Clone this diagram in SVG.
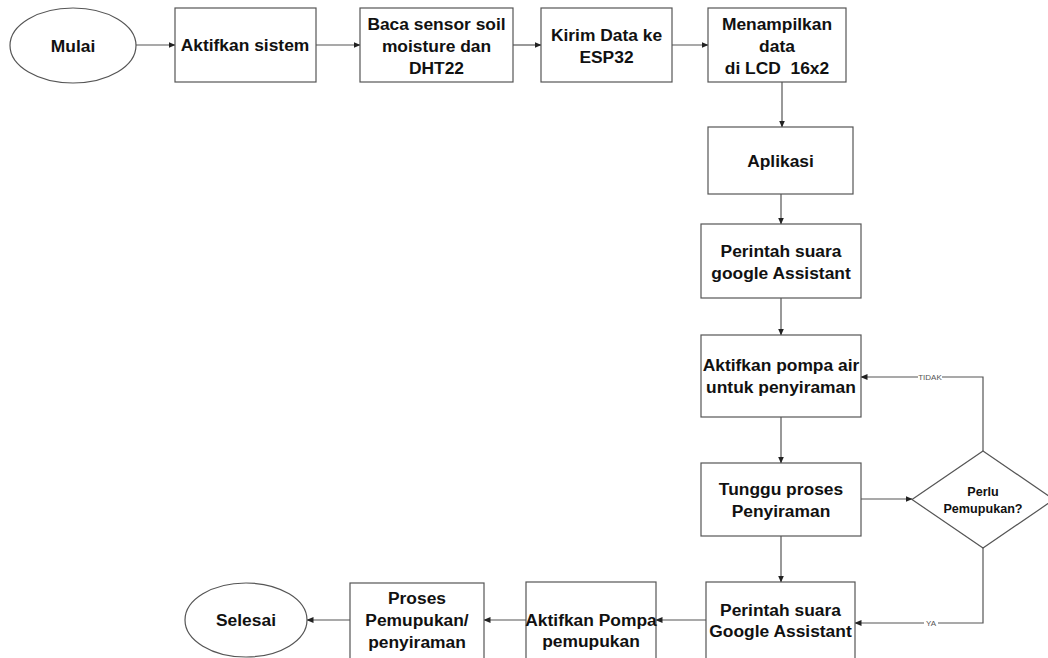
<svg xmlns="http://www.w3.org/2000/svg" width="1048" height="658" viewBox="0 0 1048 658">
<defs>
<marker id="arr" markerWidth="7" markerHeight="7" refX="6.5" refY="3.5" orient="auto" markerUnits="userSpaceOnUse">
<path d="M0,0.5 L7,3.5 L0,6.5 z" fill="#222"/>
</marker>
<style>
.box{fill:#fff;stroke:#555;stroke-width:1.2}
.t{font-family:"Liberation Sans",Arial,sans-serif;font-weight:bold;font-size:17.4px;fill:#111;text-anchor:middle;dominant-baseline:central;white-space:pre}
.s{font-size:12.6px}
.lbl{font-family:"Liberation Sans",Arial,sans-serif;font-size:8px;fill:#555;text-anchor:middle;dominant-baseline:central}
.c{fill:none;stroke:#555;stroke-width:1.2;marker-end:url(#arr)}
</style>
</defs>
<rect width="1048" height="658" fill="#fff"/>
<g id="connectors">
<path class="c" d="M136,45 H175"/>
<path class="c" d="M316,45 H360"/>
<path class="c" d="M513,45 H541"/>
<path class="c" d="M672,45 H708"/>
<path class="c" d="M782,82 V127"/>
<path class="c" d="M781,194 V224"/>
<path class="c" d="M781,298 V335"/>
<path class="c" d="M781,417 V463"/>
<path class="c" d="M861,499 H912"/>
<path class="c" d="M781,536 V582"/>
<path class="c" d="M983,451 V377 H861"/>
<path class="c" d="M983,548 V623 H855"/>
<path class="c" d="M706,620 H656"/>
<path class="c" d="M526,620 H484"/>
<path class="c" d="M350,620 H307"/>
<rect x="918" y="373" width="24" height="8" fill="#fff"/>
<text class="lbl" x="930" y="377">TIDAK</text>
<rect x="924" y="619" width="14" height="8" fill="#fff"/>
<text class="lbl" x="931" y="623">YA</text>
</g>
<g id="mulai"><ellipse class="box" cx="73" cy="45.5" rx="63" ry="37.5"/><text class="t" x="73" y="45.5">Mulai</text></g>
<g id="aktifkan-sistem"><rect class="box" x="175" y="8" width="141" height="74"/><text class="t" x="245" y="45">Aktifkan sistem</text></g>
<g id="baca-sensor"><rect class="box" x="360" y="8" width="153" height="74"/><text class="t" x="436.5" y="24">Baca sensor soil</text><text class="t" x="436.5" y="46">moisture dan</text><text class="t" x="436.5" y="68">DHT22</text></g>
<g id="kirim-data"><rect class="box" x="541" y="8" width="131" height="74"/><text class="t" x="606.5" y="35">Kirim Data ke</text><text class="t" x="606.5" y="57">ESP32</text></g>
<g id="menampilkan"><rect class="box" x="708" y="8" width="138" height="74"/><text class="t" x="777" y="24">Menampilkan</text><text class="t" x="777" y="46">data</text><text class="t" x="777" y="68">di LCD  16x2</text></g>
<g id="aplikasi"><rect class="box" x="708" y="127" width="145" height="67"/><text class="t" x="780.5" y="161">Aplikasi</text></g>
<g id="perintah-suara-1"><rect class="box" x="701" y="224" width="160" height="74"/><text class="t" x="781" y="251">Perintah suara</text><text class="t" x="781" y="273">google Assistant</text></g>
<g id="aktifkan-pompa-air"><rect class="box" x="701" y="335" width="160" height="82"/><text class="t" x="781" y="365">Aktifkan pompa air</text><text class="t" x="781" y="387">untuk penyiraman</text></g>
<g id="tunggu"><rect class="box" x="701" y="463" width="160" height="73"/><text class="t" x="781" y="489">Tunggu proses</text><text class="t" x="781" y="511">Penyiraman</text></g>
<g id="perlu-pemupukan"><polygon class="box" points="983,451 1054,499.5 983,548 912,499.5"/><text class="t s" x="983" y="492">Perlu</text><text class="t s" x="983" y="509">Pemupukan?</text></g>
<g id="perintah-suara-2"><rect class="box" x="706" y="582" width="149" height="90"/><text class="t" x="780.5" y="610">Perintah suara</text><text class="t" x="780.5" y="631">Google Assistant</text></g>
<g id="aktifkan-pompa-pemupukan"><rect class="box" x="526" y="582" width="130" height="90"/><text class="t" x="591" y="620">Aktifkan Pompa</text><text class="t" x="591" y="641">pemupukan</text></g>
<g id="proses"><rect class="box" x="350" y="583" width="134" height="90"/><text class="t" x="417" y="598">Proses</text><text class="t" x="417" y="620">Pemupukan/</text><text class="t" x="417" y="642">penyiraman</text></g>
<g id="selesai"><ellipse class="box" cx="246" cy="620" rx="61" ry="37"/><text class="t" x="246" y="620">Selesai</text></g>
</svg>
